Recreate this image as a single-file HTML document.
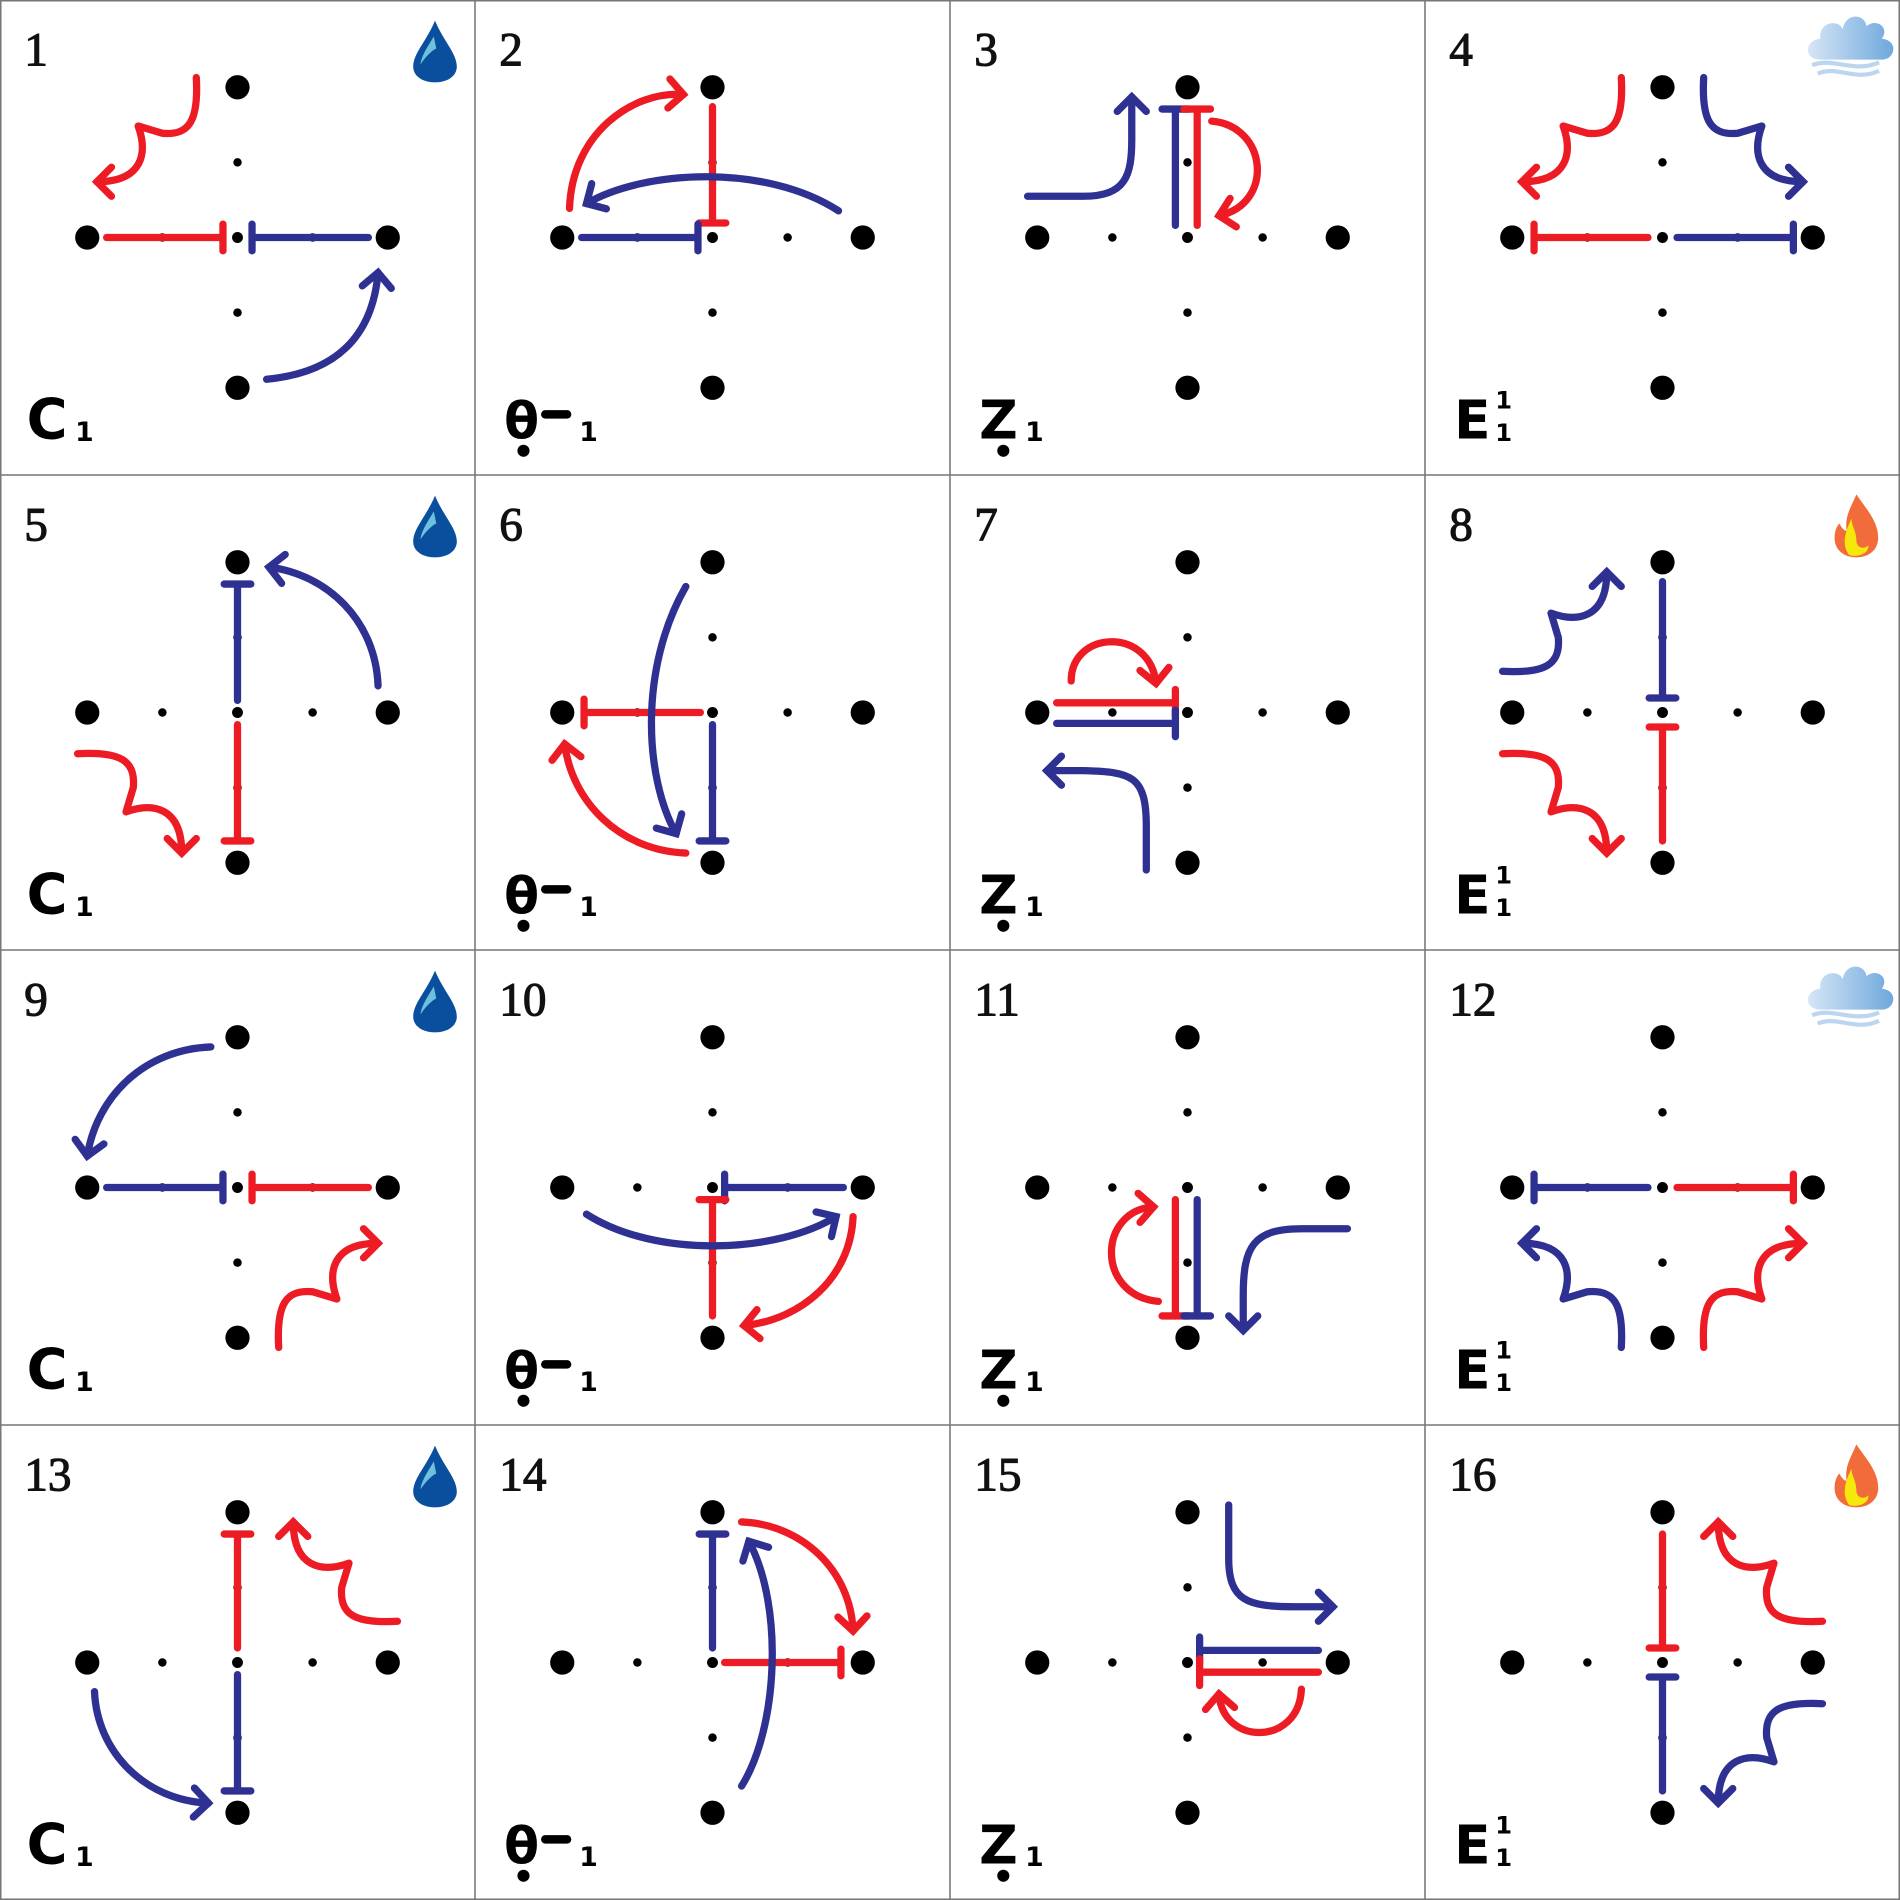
<!DOCTYPE html>
<html><head><meta charset="utf-8"><style>
html,body{margin:0;padding:0;background:#fff}
svg{display:block}
.num{font-family:"Liberation Serif",serif;font-size:39px;fill:#111;stroke:#111;stroke-width:0.9}
.lab{font-family:"DejaVu Sans",sans-serif;font-weight:bold;fill:#000}
</style></head><body>
<svg id="root" xmlns="http://www.w3.org/2000/svg" width="1900" height="1900" viewBox="0 0 1568 1568">
<defs>
<marker id="arR" markerUnits="userSpaceOnUse" markerWidth="40" markerHeight="40" refX="20" refY="20" orient="auto" overflow="visible"><path d="M8,8 L20,20 L8,32" fill="none" stroke="#ed1c24" stroke-width="6" stroke-linecap="round" stroke-linejoin="miter"/></marker>
<marker id="arB" markerUnits="userSpaceOnUse" markerWidth="40" markerHeight="40" refX="20" refY="20" orient="auto" overflow="visible"><path d="M8,8 L20,20 L8,32" fill="none" stroke="#2e3192" stroke-width="6" stroke-linecap="round" stroke-linejoin="miter"/></marker>
<linearGradient id="cloudG" x1="0" x2="1"><stop offset="0" stop-color="#d6e6f6"/><stop offset="1" stop-color="#6fa8dc"/></linearGradient>
<g id="drop"><path d="M359,17 C352,34 341,44 341,55 C341,63 349,68 359,68 C369,68 377,63 377,55 C377,44 366,34 359,17 Z" fill="#0a4f9e"/><path d="M358,30 C352,40 348,46 347,53 C352,46 356,42 360,40 Z" fill="#6ec1dc"/></g>
<g id="cloud" transform="translate(-60,-6) scale(1.15)"><path d="M336,48 C324,48 324,34 336,33 C334,22 348,18 352,26 C354,14 368,15 369,24 C376,18 386,25 380,33 C392,34 390,48 380,48 Z" fill="url(#cloudG)"/><path d="M330,52 C345,46 360,58 378,50 M334,58 C348,52 362,64 378,56" stroke="#bcd6ef" stroke-width="3" fill="none"/></g>
<g id="fire"><path d="M356,16 C364,28 374,38 374,52 C374,62 366,68 356,68 C346,68 338,62 338,52 C338,46 340,42 342,40 C344,44 346,46 348,46 C346,34 352,26 356,16 Z" fill="#f26b3a"/><path d="M352,36 C346,48 344,58 350,66 C356,68 366,66 366,58 C362,62 356,60 356,54 C356,46 352,42 352,36 Z" fill="#f6e80c"/></g>
</defs>
<rect x="0" y="0" width="1568" height="1568" fill="#fff"/>
<g id="cells"></g>
<g id="gridlines" stroke="#777" stroke-width="1.3" fill="none">
<rect x="0.6" y="0.6" width="1566.8" height="1566.8"/>
<line x1="392" y1="0" x2="392" y2="1568"/><line x1="784" y1="0" x2="784" y2="1568"/><line x1="1176" y1="0" x2="1176" y2="1568"/>
<line x1="0" y1="392" x2="1568" y2="392"/><line x1="0" y1="784" x2="1568" y2="784"/><line x1="0" y1="1176" x2="1568" y2="1176"/>
</g>
</svg>
<script>
const NS="http://www.w3.org/2000/svg";
const R="#ed1c24", B="#2e3192";
const WAVE="M162,64 C164,100 156,112 134,110 L114,104 C122,126 118,150 80,150";
const cellLabels=["C","θ","Z","E","C","θ","Z","E","C","θ","Z","E","C","θ","Z","E"];
const cellIcons=["drop",null,null,"cloud","drop",null,null,"fire","drop",null,null,"cloud","drop",null,null,"fire"];
const inhibitors=[
 [[R,88,196,184,196],[B,304,196,208,196]],
 [[R,196,88,196,184],[B,88,196,184,196]],
 [[B,186,186,186,90],[R,204,186,204,90]],
 [[R,184,196,90,196],[B,208,196,304,196]],
 [[B,196,186,196,90],[R,196,206,196,302]],
 [[R,186,196,90,196],[B,196,206,196,302]],
 [[R,88,188,186,188],[B,88,205,186,205]],
 [[B,196,88,196,184],[R,196,302,196,208]],
 [[B,88,196,184,196],[R,304,196,208,196]],
 [[B,304,196,206,196],[R,196,302,196,206]],
 [[R,186,206,186,302],[B,204,206,204,302]],
 [[B,184,196,90,196],[R,208,196,304,196]],
 [[R,196,184,196,90],[B,196,206,196,302]],
 [[B,196,184,196,90],[R,206,196,302,196]],
 [[B,304,186,206,186],[R,304,204,206,204]],
 [[R,196,90,196,184],[B,196,302,196,208]]
];
const arrows=[
 [[B,"M220,313 Q305,305 312,225"]],
 [[R,"M78,172 C80,110 130,75 172,78"],[B,"M300,174 C240,135 140,140 92,168"]],
 [[B,"M64,162 L110,162 C145,162 150,145 150,115 L150,80"],[R,"M216,100 C262,104 268,168 222,178"]],
 [],
 [[B,"M312,174 C310,120 270,82 222,76"]],
 [[B,"M174,92 C135,160 140,250 166,296"],[R,"M174,312 C120,310 80,270 74,222"]],
 [[R,"M100,170 C100,128 165,125 170,172"],[B,"M162,326 L162,290 C162,248 150,245 110,244 L80,244"]],
 [],
 [[B,"M174,80 C120,82 80,120 72,170"]],
 [[B,"M92,218 C150,255 250,250 298,220"],[R,"M312,220 C310,270 270,305 222,310"]],
 [[R,"M172,290 C120,285 122,215 168,212"],[B,"M328,230 L290,230 C250,230 242,245 242,285 L242,314"]],
 [],
 [[B,"M78,220 C80,270 120,310 172,312"]],
 [[R,"M220,80 C270,82 310,120 312,170"],[B,"M220,298 C250,250 255,150 226,96"]],
 [[B,"M230,66 L230,110 C230,145 245,150 285,150 L316,150"],[R,"M290,218 C288,265 225,265 222,222"]],
 []
];
const waves=[
 [[R,"1,0,0,1,0,0"]],[],[],
 [[R,"1,0,0,1,0,0"],[B,"-1,0,0,1,392,0"]],
 [[R,"0,-1,1,0,0,392"]],[],[],
 [[B,"0,1,1,0,0,0"],[R,"0,-1,1,0,0,392"]],
 [[R,"-1,0,0,-1,392,392"]],[],[],
 [[B,"1,0,0,-1,0,392"],[R,"-1,0,0,-1,392,392"]],
 [[R,"0,1,-1,0,392,0"]],[],[],
 [[R,"0,1,-1,0,392,0"],[B,"0,-1,-1,0,392,392"]]
];
function mk(tag,attrs,parent){const e=document.createElementNS(NS,tag);for(const k in attrs)e.setAttribute(k,attrs[k]);parent.appendChild(e);return e;}
const cells=document.getElementById("cells");
for(let i=0;i<16;i++){
 const col=i%4,row=Math.floor(i/4);
 const g=mk("g",{transform:`translate(${col*392},${row*392})`},cells);
 
 
 const n=mk("text",{x:20,y:54,class:"num"},g);n.textContent=String(i+1);
 
 
 const big=[[196,72],[72,196],[320,196],[196,320]],small=[[196,134],[134,196],[258,196],[196,258]];
 big.forEach(p=>{const c=mk("circle",{cx:p[0],cy:p[1],r:10,fill:"#000"},g);
  
  });
 small.forEach(p=>{const c=mk("circle",{cx:p[0],cy:p[1],r:3.5,fill:"#000"},g);
  
  });
 const cc=mk("circle",{cx:196,cy:196,r:4.5,fill:"#000"},g);
 
 
 inhibitors[i].forEach(d=>{
  const [c,x1,y1,x2,y2]=d;
  const ig=mk("g",{stroke:c,"stroke-width":6,"stroke-linecap":"round",fill:"none"},g);
  
  
  mk("line",{x1,y1,x2,y2},ig);
  if(y1===y2) mk("line",{x1:x2,y1:y2-11,x2:x2,y2:y2+11},ig);
  else mk("line",{x1:x2-11,y1:y2,x2:x2+11,y2:y2},ig);
 });
 arrows[i].forEach(d=>{
  const p=mk("path",{d:d[1],stroke:d[0],"stroke-width":6,fill:"none","stroke-linecap":"round","marker-end":d[0]===R?"url(#arR)":"url(#arB)"},g);
  
  
 });
 waves[i].forEach(d=>{
  const p=mk("path",{d:WAVE,transform:`matrix(${d[1]})`,stroke:d[0],"stroke-width":6,fill:"none","stroke-linecap":"round","stroke-linejoin":"round","marker-end":d[0]===R?"url(#arR)":"url(#arB)"},g);
  
  
 });
 if(cellIcons[i]){const u=mk("use",{href:"#"+cellIcons[i]},g);
  
  }
 const lg=mk("g",{},g);
 
 
 const L=cellLabels[i];
 if(L==="C"){
  mk("text",{x:22,y:362,class:"lab","font-size":46},lg).textContent="C";
  mk("text",{x:62,y:364,class:"lab","font-size":22},lg).textContent="1";
 }else if(L==="θ"){
  mk("text",{x:24,y:362,class:"lab","font-size":42},lg).textContent="θ";
  mk("line",{x1:58,y1:342,x2:76,y2:342,stroke:"#000","stroke-width":7,"stroke-linecap":"round"},lg);
  mk("text",{x:86,y:364,class:"lab","font-size":22},lg).textContent="1";
  mk("circle",{cx:40,cy:372,r:5,fill:"#000"},lg);
 }else if(L==="Z"){
  mk("text",{x:24,y:362,class:"lab","font-size":44},lg).textContent="Z";
  mk("text",{x:62,y:364,class:"lab","font-size":22},lg).textContent="1";
  mk("circle",{cx:44,cy:372,r:5,fill:"#000"},lg);
 }else{
  mk("text",{x:24,y:362,class:"lab","font-size":44},lg).textContent="E";
  mk("text",{x:58,y:337,class:"lab","font-size":20},lg).textContent="1";
  mk("text",{x:58,y:364,class:"lab","font-size":20},lg).textContent="1";
 }
}
</script>
</body></html>
